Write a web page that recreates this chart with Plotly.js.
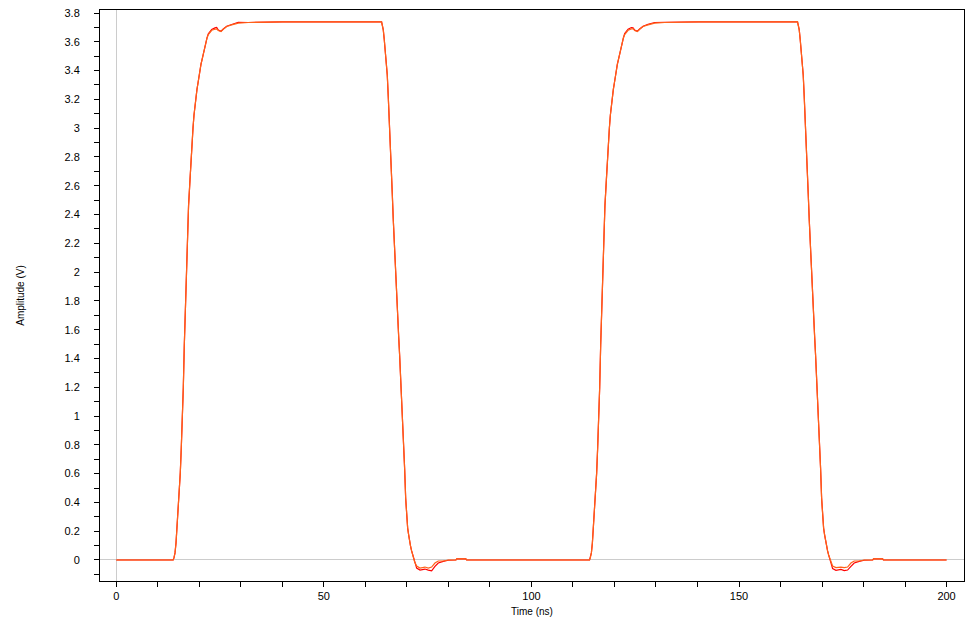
<!DOCTYPE html>
<html>
<head>
<meta charset="utf-8">
<script src="https://cdn.plot.ly/plotly-3.0.1.min.js"></script>
<style>html,body{margin:0;padding:0;background:#fff;}#chart{width:975px;height:631px;}</style>
</head>
<body>
<div id="chart"></div>
<script>
// Time (ns)
const timeNs = [
  0, 13.7, 13.9, 14.14, 14.38, 14.62, 14.93, 15.17, 15.41, 15.65, 15.9, 16.14, 16.38, 16.62, 16.86, 17.1,
  17.4, 17.75, 18.0, 18.23, 18.47, 18.71, 18.95, 19.19, 19.43, 19.68, 19.92, 20.16, 20.4, 20.64, 20.88,
  21.12, 21.36, 21.6, 21.85, 22.16, 22.57, 22.98, 23.77, 24.18, 24.57, 25.21, 25.77, 26.59, 27.79, 29.38,
  31.79, 35, 40, 63.9,
  64.07, 64.31, 64.55, 64.79, 65.03, 65.27, 65.51, 65.75, 65.99, 66.23, 66.47, 66.71, 66.96, 67.2, 67.44,
  67.6, 67.77, 68.01, 68.25, 68.5, 68.74, 68.98, 69.22, 69.46, 69.7, 69.94, 70.18, 70.42, 70.66, 70.9,
  71.14, 71.39, 71.63, 71.87, 72.35, 73.15, 74.35, 75.15, 75.96, 76.76, 77.55, 78.76, 79.96,
  81.8, 82.0, 84.2, 84.4,
  114.0, 114.2, 114.44, 114.68, 114.92, 115.23, 115.47, 115.71, 115.95, 116.2, 116.44, 116.68, 116.92, 117.16, 117.4,
  117.7, 118.05, 118.3, 118.53, 118.77, 119.01, 119.25, 119.49, 119.73, 119.98, 120.22, 120.46, 120.7, 120.94, 121.18,
  121.42, 121.66, 121.9, 122.15, 122.46, 122.87, 123.28, 124.07, 124.48, 124.87, 125.51, 126.07, 126.89, 128.09, 129.68,
  132.09, 135.3, 140.3, 164.1,
  164.27, 164.51, 164.75, 164.99, 165.23, 165.47, 165.71, 165.95, 166.19, 166.43, 166.67, 166.91, 167.16, 167.4, 167.64,
  167.8, 167.97, 168.21, 168.45, 168.7, 168.94, 169.18, 169.42, 169.66, 169.9, 170.14, 170.38, 170.62, 170.86, 171.1,
  171.34, 171.59, 171.83, 172.07, 172.55, 173.35, 174.55, 175.35, 176.16, 176.96, 177.75, 178.96, 180.16,
  182.2, 182.4, 184.6, 184.8,
  200
];
// Amplitude (V), orange trace
const ampOrange = [
  0, 0, 0.016, 0.049, 0.118, 0.222, 0.334, 0.431, 0.605, 0.778, 0.973, 1.2, 1.494, 1.76, 2.015, 2.24,
  2.46, 2.641, 2.79, 2.898, 3.0, 3.09, 3.16, 3.217, 3.27, 3.314, 3.365, 3.405, 3.445, 3.474, 3.509,
  3.544, 3.572, 3.598, 3.627, 3.65, 3.666, 3.68, 3.687, 3.69, 3.678, 3.671, 3.687, 3.706, 3.718, 3.73,
  3.734, 3.737, 3.739, 3.739,
  3.718, 3.683, 3.614, 3.544, 3.463, 3.37, 3.22, 3.078, 2.89, 2.724, 2.55, 2.37, 2.196, 2.01, 1.856,
  1.76, 1.675, 1.556, 1.42, 1.27, 1.11, 0.94, 0.79, 0.63, 0.43, 0.3, 0.222, 0.175, 0.125, 0.092,
  0.063, 0.035, 0.014, -0.014, -0.042, -0.056, -0.049, -0.056, -0.049, -0.021, -0.007, -0.007, 0,
  0, 0.008, 0.008, 0,
  0, 0.016, 0.049, 0.118, 0.222, 0.334, 0.431, 0.605, 0.778, 0.973, 1.2, 1.494, 1.76, 2.015, 2.24,
  2.46, 2.641, 2.79, 2.898, 3.0, 3.09, 3.16, 3.217, 3.27, 3.314, 3.365, 3.405, 3.445, 3.474, 3.509,
  3.544, 3.572, 3.598, 3.627, 3.65, 3.666, 3.68, 3.69, 3.692, 3.678, 3.671, 3.687, 3.706, 3.718, 3.73,
  3.734, 3.737, 3.739, 3.739,
  3.718, 3.683, 3.614, 3.544, 3.463, 3.37, 3.22, 3.078, 2.89, 2.724, 2.55, 2.37, 2.196, 2.01, 1.856,
  1.76, 1.675, 1.556, 1.42, 1.27, 1.11, 0.94, 0.79, 0.63, 0.43, 0.3, 0.222, 0.175, 0.125, 0.092,
  0.063, 0.035, 0.014, -0.014, -0.042, -0.053, -0.049, -0.053, -0.049, -0.021, -0.007, -0.007, 0,
  0, 0.008, 0.008, 0,
  0
];
// Amplitude (V), red trace
const ampRed = [
  0, 0, 0.016, 0.049, 0.118, 0.222, 0.334, 0.431, 0.605, 0.778, 0.973, 1.2, 1.494, 1.76, 2.015, 2.24,
  2.46, 2.641, 2.79, 2.898, 3.0, 3.09, 3.16, 3.217, 3.27, 3.314, 3.365, 3.405, 3.445, 3.474, 3.509,
  3.544, 3.572, 3.598, 3.627, 3.655, 3.675, 3.685, 3.697, 3.7, 3.682, 3.673, 3.689, 3.708, 3.72, 3.736,
  3.734, 3.737, 3.739, 3.739,
  3.718, 3.683, 3.614, 3.544, 3.463, 3.37, 3.22, 3.078, 2.89, 2.724, 2.55, 2.37, 2.196, 2.01, 1.856,
  1.76, 1.675, 1.556, 1.42, 1.27, 1.11, 0.94, 0.79, 0.63, 0.43, 0.3, 0.222, 0.175, 0.125, 0.092,
  0.063, 0.035, 0.014, -0.02, -0.056, -0.07, -0.063, -0.07, -0.076, -0.045, -0.021, -0.01, -0.002,
  0, 0.008, 0.008, 0,
  0, 0.016, 0.049, 0.118, 0.222, 0.334, 0.431, 0.605, 0.778, 0.973, 1.2, 1.494, 1.76, 2.015, 2.24,
  2.46, 2.641, 2.79, 2.898, 3.0, 3.09, 3.16, 3.217, 3.27, 3.314, 3.365, 3.405, 3.445, 3.474, 3.509,
  3.544, 3.572, 3.598, 3.627, 3.658, 3.678, 3.688, 3.699, 3.698, 3.682, 3.673, 3.689, 3.708, 3.722, 3.734,
  3.736, 3.737, 3.739, 3.739,
  3.718, 3.683, 3.614, 3.544, 3.463, 3.37, 3.22, 3.078, 2.89, 2.724, 2.55, 2.37, 2.196, 2.01, 1.856,
  1.76, 1.675, 1.556, 1.42, 1.27, 1.11, 0.94, 0.79, 0.63, 0.43, 0.3, 0.222, 0.175, 0.125, 0.092,
  0.063, 0.035, 0.014, -0.02, -0.06, -0.072, -0.066, -0.074, -0.07, -0.045, -0.021, -0.01, -0.002,
  0, 0.008, 0.008, 0,
  0
];

const FONT = 'Liberation Sans, Arial, sans-serif';

const traces = [
  {x: timeNs, y: ampRed, type: 'scatter', mode: 'lines', name: 'red',
   line: {color: '#ff0000', width: 1.2}, hoverinfo: 'x+y'},
  {x: timeNs, y: ampOrange, type: 'scatter', mode: 'lines', name: 'orange',
   line: {color: '#ff6219', width: 1.2}, hoverinfo: 'x+y'}
];

const layout = {
  width: 975, height: 631,
  margin: {l: 100, r: 11, t: 10, b: 50},
  paper_bgcolor: '#ffffff', plot_bgcolor: '#ffffff',
  showlegend: false,
  font: {family: FONT, size: 11, color: '#000'},
  xaxis: {
    range: [-3.93, 204.2], tick0: 0, dtick: 50,
    ticks: 'outside', ticklen: 5, tickwidth: 1, tickcolor: '#000',
    minor: {dtick: 10, tick0: 0, ticks: 'outside', ticklen: 5, tickwidth: 1, tickcolor: '#000', showgrid: false},
    showline: true, linecolor: '#000', linewidth: 1, mirror: true,
    showgrid: false, zeroline: true, zerolinecolor: '#cccccc', zerolinewidth: 1,
    tickfont: {family: FONT, size: 11, color: '#000'},
    title: {text: 'Time (ns)', font: {family: FONT, size: 10, color: '#000'}, standoff: 6},
    automargin: false
  },
  yaxis: {
    range: [-0.146, 3.821], tick0: 0, dtick: 0.2,
    ticks: 'outside', ticklen: 5, tickwidth: 1, tickcolor: '#000',
    minor: {dtick: 0.1, tick0: 0, ticks: 'outside', ticklen: 5, tickwidth: 1, tickcolor: '#000', showgrid: false},
    showline: true, linecolor: '#000', linewidth: 1, mirror: true,
    showgrid: false, zeroline: true, zerolinecolor: '#cccccc', zerolinewidth: 1,
    ticklabelstandoff: 12,
    tickfont: {family: FONT, size: 11, color: '#000'},
    title: {text: 'Amplitude (V)', font: {family: FONT, size: 10, color: '#000'}, standoff: 38},
    automargin: false
  }
};

Plotly.newPlot('chart', traces, layout, {displayModeBar: false, responsive: false});
</script>
</body>
</html>
